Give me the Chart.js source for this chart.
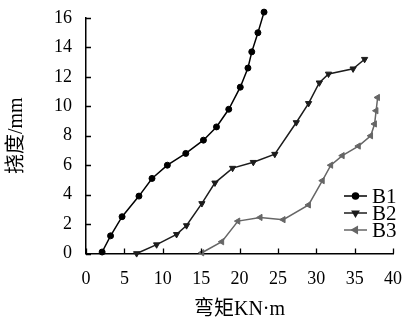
<!DOCTYPE html>
<html>
<head>
<meta charset="utf-8">
<script src="https://cdn.jsdelivr.net/npm/chart.js@4.4.0/dist/chart.umd.min.js"></script>
<style>
html,body{margin:0;padding:0;background:#fff;}
#wrap{width:408px;height:322px;position:relative;}
</style>
</head>
<body>
<div id="wrap"><canvas id="c" width="408" height="322"></canvas></div>
<script>
// ---- data ----
const seriesNames = ["B1", "B2", "B3"];
const b1X = [2.1, 3.2, 4.7, 6.9, 8.6, 10.6, 13.0, 15.3, 17.0, 18.6, 20.1, 21.1, 21.6, 22.4, 23.2];
const b1Y = [0.1, 1.2, 2.5, 3.9, 5.1, 6.0, 6.8, 7.7, 8.6, 9.8, 11.3, 12.6, 13.7, 15.0, 16.4];
const b2X = [6.6, 9.2, 11.8, 13.1, 15.1, 16.8, 19.1, 21.8, 24.6, 27.4, 29.0, 30.4, 31.6, 34.8, 36.3];
const b2Y = [0.0, 0.6, 1.3, 1.9, 3.4, 4.8, 5.8, 6.2, 6.75, 8.9, 10.2, 11.6, 12.2, 12.55, 13.2];
const b3X = [15.1, 17.7, 19.8, 22.7, 25.7, 29.0, 30.8, 31.9, 33.4, 35.5, 37.1, 37.6, 37.8, 38.0];
const b3Y = [0.05, 0.8, 2.2, 2.45, 2.3, 3.3, 4.95, 6.0, 6.65, 7.3, 8.0, 8.8, 9.7, 10.6];
const xTitle = "弯矩KN·m";
const yTitle = "挠度/mm";

const FONT = "'Liberation Serif','Noto Sans CJK SC',serif";
const pts = (xs, ys) => xs.map((x, i) => ({x: x, y: ys[i]}));

const styles = [
  {color: '#000000', pointStyle: 'circle', rotation: 0, radius: 3},
  {color: '#1c1c1c', pointStyle: 'triangle', rotation: 180, radius: 3.6},
  {color: '#666666', pointStyle: 'triangle', rotation: -90, radius: 3.6}
];
const allData = [pts(b1X, b1Y), pts(b2X, b2Y), pts(b3X, b3Y)];

const datasets = allData.map((d, i) => ({
  label: seriesNames[i],
  data: d,
  borderColor: styles[i].color,
  backgroundColor: styles[i].color,
  borderWidth: 1.5,
  pointStyle: styles[i].pointStyle,
  rotation: styles[i].rotation,
  pointRadius: styles[i].radius,
  pointBorderWidth: 1,
  tension: 0,
  clip: false
}));

// let markers slightly above the top of the axis still be drawn
const unclip = {
  id: 'unclip',
  beforeDatasetsDraw(chart) {
    chart._savedTop = chart.chartArea.top;
    chart.chartArea.top = 0;
  },
  afterDatasetsDraw(chart) {
    chart.chartArea.top = chart._savedTop;
  }
};

// inward-pointing tick marks
const innerTicks = {
  id: 'innerTicks',
  afterDraw(chart) {
    const ctx = chart.ctx;
    const xs = chart.scales.x, ys = chart.scales.y;
    const area = chart.chartArea;
    ctx.save();
    ctx.strokeStyle = '#000';
    ctx.lineWidth = 1.3;
    ctx.beginPath();
    xs.ticks.forEach(t => {
      const px = Math.round(xs.getPixelForValue(t.value)) + 0.5;
      ctx.moveTo(px, area.bottom);
      ctx.lineTo(px, area.bottom - 5);
    });
    ys.ticks.forEach(t => {
      const py = Math.round(ys.getPixelForValue(t.value)) + 0.5;
      ctx.moveTo(area.left, py);
      ctx.lineTo(area.left + 5, py);
    });
    ctx.stroke();
    ctx.restore();
  }
};

const customLegend = {
  id: 'customLegend',
  afterDraw(chart) {
    const ctx = chart.ctx;
    const x0 = 344, x1 = 367, tx = 372;
    const y0 = 196, dy = 17;
    ctx.save();
    chart.data.datasets.forEach((ds, i) => {
      const y = y0 + i * dy;
      ctx.strokeStyle = ds.borderColor;
      ctx.lineWidth = 1.5;
      ctx.beginPath();
      ctx.moveTo(x0, y);
      ctx.lineTo(x1, y);
      ctx.stroke();
      ctx.fillStyle = ds.backgroundColor;
      Chart.helpers.drawPoint(ctx, {
        pointStyle: ds.pointStyle,
        rotation: ds.rotation,
        radius: ds.pointRadius,
        borderWidth: 1
      }, (x0 + x1) / 2, y);
      ctx.fillStyle = '#000';
      ctx.font = "21px " + FONT;
      ctx.textAlign = 'left';
      ctx.textBaseline = 'middle';
      ctx.fillText(ds.label, tx, y + 1);
    });
    ctx.restore();
  }
};

function noPad(s) {
  s.paddingTop = 0; s.paddingBottom = 0; s.paddingLeft = 0; s.paddingRight = 0;
}

new Chart(document.getElementById('c'), {
  type: 'line',
  data: {datasets: datasets},
  options: {
    responsive: false,
    animation: false,
    devicePixelRatio: 1,
    layout: {padding: {top: 18, right: 15, left: 0, bottom: 0}},
    plugins: {legend: {display: false}, tooltip: {enabled: false}},
    scales: {
      x: {
        type: 'linear',
        min: 0, max: 40,
        ticks: {stepSize: 5, color: '#000', font: {family: FONT, size: 18}, padding: 15, maxRotation: 0},
        grid: {display: true, drawOnChartArea: false, drawTicks: false},
        border: {display: true, color: '#000', width: 1.5},
        title: {display: true, text: xTitle, color: '#000', font: {family: FONT, size: 20}, padding: {top: 4, bottom: 0}},
        afterFit(s) { s.height = 68.5; noPad(s); }
      },
      y: {
        type: 'linear',
        min: 0, max: 16,
        ticks: {stepSize: 2, color: '#000', font: {family: FONT, size: 18}, padding: 14},
        grid: {display: true, drawOnChartArea: false, drawTicks: false},
        border: {display: true, color: '#000', width: 1.5},
        title: {display: true, text: yTitle, color: '#000', font: {family: FONT, size: 20}, padding: {top: 5, bottom: 14}},
        afterFit(s) { s.width = 86; noPad(s); }
      }
    }
  },
  plugins: [unclip, innerTicks, customLegend]
});
</script>
</body>
</html>
